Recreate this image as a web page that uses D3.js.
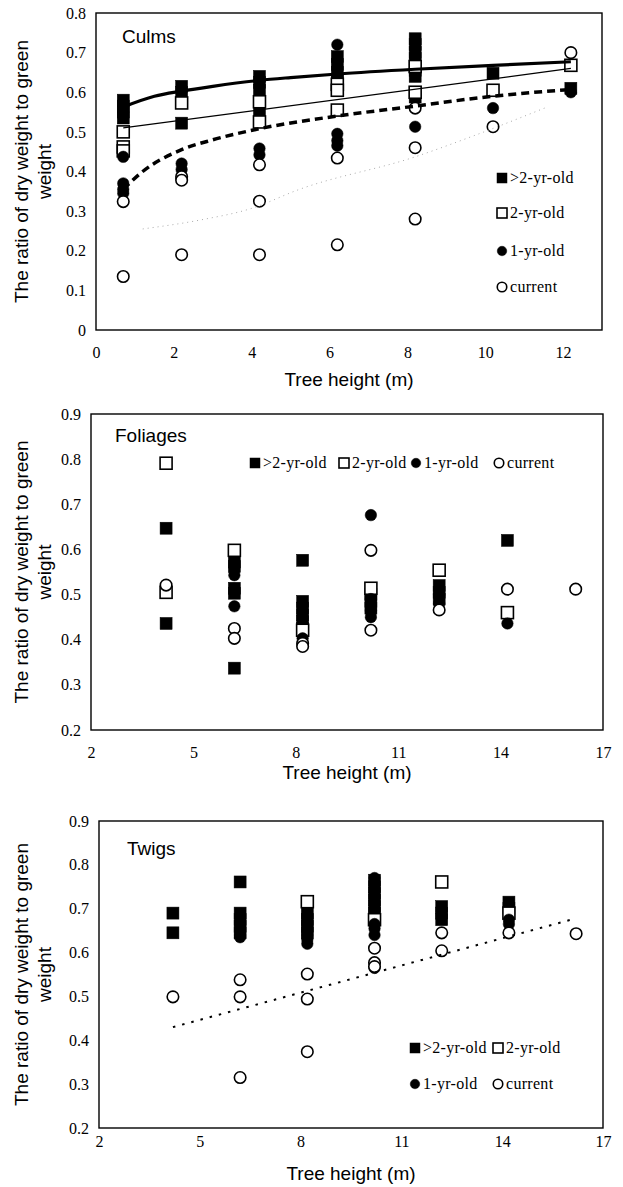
<!DOCTYPE html>
<html>
<head>
<meta charset="utf-8">
<script src="https://cdn.jsdelivr.net/npm/d3@7"></script>
<style>
  body { margin: 0; background: #fff; }
</style>
</head>
<body>
<svg id="vis" width="623" height="1187"></svg>
<script>
const svg = d3.select("#vis");

const SERIES_NAMES = [">2-yr-old", "2-yr-old", "1-yr-old", "current"];

// ---- Culms ----
const culmsXTicks = [0, 2, 4, 6, 8, 10, 12];
const culmsYTicks = [0, 0.1, 0.2, 0.3, 0.4, 0.5, 0.6, 0.7, 0.8];
const culmsOver2 = [[0.7, 0.58], [0.7, 0.565], [0.7, 0.55], [0.7, 0.535],
  [2.2, 0.615], [2.2, 0.60], [2.2, 0.522],
  [4.2, 0.64], [4.2, 0.625], [4.2, 0.605], [4.2, 0.55],
  [6.2, 0.69], [6.2, 0.67], [6.2, 0.65], [6.2, 0.63],
  [8.2, 0.735], [8.2, 0.72], [8.2, 0.70], [8.2, 0.685], [8.2, 0.655], [8.2, 0.64], [8.2, 0.588],
  [10.2, 0.648], [12.2, 0.61]];
const culms2yr = [[0.7, 0.50], [0.7, 0.462], [0.7, 0.452], [2.2, 0.573], [4.2, 0.576], [4.2, 0.525],
  [6.2, 0.62], [6.2, 0.605], [6.2, 0.555], [8.2, 0.665], [8.2, 0.60], [10.2, 0.605], [12.2, 0.668]];
const culms1yr = [[0.7, 0.437], [0.7, 0.37], [0.7, 0.355], [0.7, 0.345], [2.2, 0.42], [2.2, 0.405],
  [4.2, 0.458], [4.2, 0.442], [6.2, 0.72], [6.2, 0.495], [6.2, 0.478], [6.2, 0.465],
  [8.2, 0.513], [10.2, 0.56], [12.2, 0.60]];
const culmsCurrent = [[0.7, 0.324], [0.7, 0.135], [2.2, 0.387], [2.2, 0.378], [2.2, 0.19],
  [4.2, 0.417], [4.2, 0.325], [4.2, 0.19], [6.2, 0.434], [6.2, 0.215],
  [8.2, 0.56], [8.2, 0.46], [8.2, 0.28], [10.2, 0.513], [12.2, 0.70]];
// fitted trend lines
const culmsFitOver2 = [[0.7, 0.563], [1.5, 0.59], [2.2, 0.603], [3, 0.615], [4.2, 0.63], [5, 0.637],
  [6.2, 0.646], [8.2, 0.658], [10.2, 0.668], [12.2, 0.677]];
const culmsFit2yr = [[0.7, 0.51], [12.2, 0.66]];
const culmsFit1yr = [[0.7, 0.355], [1.2, 0.40], [2.2, 0.455], [3, 0.48], [4.2, 0.508], [6.2, 0.54],
  [8.2, 0.565], [10.2, 0.59], [12.2, 0.607]];
const culmsFitCurrent = [[1.2, 0.255], [2.7, 0.278], [4.0, 0.307], [5.2, 0.354], [8.2, 0.437],
  [9.7, 0.49], [11.6, 0.563]];

// ---- Foliages ----
const heightTicks = [2, 5, 8, 11, 14, 17];
const ratioTicks = [0.2, 0.3, 0.4, 0.5, 0.6, 0.7, 0.8, 0.9];
const foliOver2 = [[4.2, 0.647], [4.2, 0.436], [6.2, 0.572], [6.2, 0.562], [6.2, 0.514], [6.2, 0.503],
  [6.2, 0.337], [8.2, 0.576], [8.2, 0.485], [8.2, 0.47], [8.2, 0.455], [8.2, 0.44], [8.2, 0.425],
  [10.2, 0.50], [10.2, 0.485], [10.2, 0.47], [12.2, 0.52], [12.2, 0.505], [12.2, 0.49], [14.2, 0.62]];
const foli2yr = [[4.2, 0.791], [4.2, 0.505], [6.2, 0.598], [8.2, 0.421], [10.2, 0.514], [12.2, 0.554], [14.2, 0.46]];
const foli1yr = [[6.2, 0.543], [6.2, 0.474], [8.2, 0.403], [10.2, 0.676], [10.2, 0.49], [10.2, 0.465],
  [10.2, 0.45], [12.2, 0.50], [12.2, 0.48], [14.2, 0.436]];
const foliCurrent = [[4.2, 0.521], [6.2, 0.425], [6.2, 0.403], [8.2, 0.392], [8.2, 0.385], [10.2, 0.598],
  [10.2, 0.421], [12.2, 0.466], [14.2, 0.512], [16.2, 0.512]];

// ---- Twigs ----
const twigOver2 = [[4.2, 0.69], [4.2, 0.645], [6.2, 0.761], [6.2, 0.69], [6.2, 0.675], [6.2, 0.66], [6.2, 0.645],
  [8.2, 0.69], [8.2, 0.675], [8.2, 0.66], [8.2, 0.645],
  [10.2, 0.765], [10.2, 0.75], [10.2, 0.735], [10.2, 0.72], [10.2, 0.705], [10.2, 0.69],
  [12.2, 0.705], [12.2, 0.69], [12.2, 0.675], [14.2, 0.715], [14.2, 0.70]];
const twig2yr = [[8.2, 0.716], [10.2, 0.675], [12.2, 0.761], [14.2, 0.69]];
const twig1yr = [[6.2, 0.64], [6.2, 0.635], [8.2, 0.64], [8.2, 0.63], [8.2, 0.62], [10.2, 0.77], [10.2, 0.665],
  [10.2, 0.655], [10.2, 0.64], [10.2, 0.565], [14.2, 0.675], [14.2, 0.665]];
const twigCurrent = [[4.2, 0.499], [6.2, 0.538], [6.2, 0.499], [6.2, 0.315], [8.2, 0.551], [8.2, 0.494],
  [8.2, 0.374], [10.2, 0.61], [10.2, 0.577], [10.2, 0.568], [12.2, 0.645], [12.2, 0.604],
  [14.2, 0.645], [16.2, 0.643]];
const twigFitCurrent = [[4.2, 0.43], [16.2, 0.678]];

// marker look per series (same order as SERIES_NAMES)
const SHAPES = ["square", "square", "circle", "circle"];
const FILLS = ["#000", "#fff", "#000", "#fff"];
const SERIF = "'Liberation Serif', 'Times New Roman', serif";
const SANS = "'Liberation Sans', Arial, sans-serif";

const panels = [
  { title: "Culms", left: 96, top: 13, right: 602, bottom: 330, xDomain: [0, 13], yDomain: [0, 0.8],
    xTicks: culmsXTicks, yTicks: culmsYTicks, xPad: 17, titleX: 122, titleY: 43, xTitleY: 386,
    series: [culmsOver2, culms2yr, culms1yr, culmsCurrent],
    fits: [
      { pts: culmsFitOver2, width: 3.2, dash: null, color: "#000", curve: d3.curveMonotoneX },
      { pts: culmsFit2yr, width: 1.3, dash: null, color: "#000", curve: d3.curveLinear },
      { pts: culmsFit1yr, width: 3.5, dash: "8,5", color: "#000", curve: d3.curveMonotoneX },
      { pts: culmsFitCurrent, width: 1, dash: "1,4", color: "#aaa", curve: d3.curveMonotoneX }
    ],
    legend: [[502, 178], [502, 213], [502, 251], [502, 287]] },
  { title: "Foliages", left: 91, top: 414, right: 603, bottom: 730, xDomain: [2, 17], yDomain: [0.2, 0.9],
    xTicks: heightTicks, yTicks: ratioTicks, xPad: 17, titleX: 115, titleY: 442, xTitleY: 779,
    series: [foliOver2, foli2yr, foli1yr, foliCurrent],
    fits: [],
    legend: [[255, 463], [344, 463], [416, 463], [499, 463]] },
  { title: "Twigs", left: 99, top: 821, right: 603, bottom: 1128, xDomain: [2, 17], yDomain: [0.2, 0.9],
    xTicks: heightTicks, yTicks: ratioTicks, xPad: 8, titleX: 127, titleY: 855, xTitleY: 1180,
    series: [twigOver2, twig2yr, twig1yr, twigCurrent],
    fits: [
      { pts: twigFitCurrent, width: 2, dash: "2.5,7", color: "#000", curve: d3.curveLinear }
    ],
    legend: [[415, 1048], [498, 1048], [415, 1084], [498, 1084]] }
];

function drawMarker(g, shape, fill, cx, cy, size) {
  if (shape === "square") {
    g.append("rect")
      .attr("x", cx - size / 2).attr("y", cy - size / 2)
      .attr("width", size).attr("height", size)
      .attr("fill", fill).attr("stroke", "#000").attr("stroke-width", fill === "#000" ? 0.5 : 1.6);
  } else {
    g.append("circle")
      .attr("cx", cx).attr("cy", cy).attr("r", size / 2)
      .attr("fill", fill).attr("stroke", "#000").attr("stroke-width", fill === "#000" ? 0.5 : 1.6);
  }
}

function drawPanel(p) {
  const x = d3.scaleLinear().domain(p.xDomain).range([p.left, p.right]);
  const y = d3.scaleLinear().domain(p.yDomain).range([p.bottom, p.top]);
  const g = svg.append("g");

  // axes, labels only (no tick marks in the original)
  const xa = g.append("g")
    .attr("transform", `translate(0,${p.bottom})`)
    .call(d3.axisBottom(x).tickValues(p.xTicks).tickSize(0).tickPadding(p.xPad).tickFormat(d3.format("d")));
  const ya = g.append("g")
    .attr("transform", `translate(${p.left},0)`)
    .call(d3.axisLeft(y).tickValues(p.yTicks).tickSize(0).tickPadding(10)
      .tickFormat(d => d === 0 ? "0" : d3.format(".1f")(d)));
  [xa, ya].forEach(a => {
    a.select(".domain").remove();
    a.attr("font-family", null).attr("font-size", null);
    a.selectAll("text").style("font-family", SERIF).style("font-size", "16px").attr("fill", "#000");
  });

  // markers, drawn series after series so the open ones sit on top
  p.series.forEach((pts, i) => {
    const sg = g.append("g").attr("class", "series" + i);
    pts.forEach(d => drawMarker(sg, SHAPES[i], FILLS[i], x(d[0]), y(d[1]), SHAPES[i] === "square" ? 12 : 11.5));
  });

  // trend lines
  const line = d3.line().x(d => x(d[0])).y(d => y(d[1]));
  p.fits.forEach(f => {
    g.append("path")
      .attr("d", line.curve(f.curve)(f.pts))
      .attr("fill", "none")
      .attr("stroke", f.color)
      .attr("stroke-width", f.width)
      .attr("stroke-dasharray", f.dash);
  });

  // frame
  g.append("rect")
    .attr("x", p.left).attr("y", p.top)
    .attr("width", p.right - p.left).attr("height", p.bottom - p.top)
    .attr("fill", "none").attr("stroke", "#000").attr("stroke-width", 1.4);

  // panel title
  g.append("text")
    .attr("x", p.titleX).attr("y", p.titleY)
    .style("font-family", SANS).style("font-size", "19px")
    .text(p.title);

  // legend
  p.legend.forEach((pos, i) => {
    drawMarker(g, SHAPES[i], FILLS[i], pos[0], pos[1], SHAPES[i] === "square" ? 10 : 9.5);
    g.append("text")
      .attr("x", pos[0] + 8).attr("y", pos[1] + 5)
      .style("font-family", SERIF).style("font-size", "16px")
      .style("letter-spacing", "0.3px")
      .text(SERIES_NAMES[i]);
  });

  // axis titles
  g.append("text")
    .attr("x", (p.left + p.right) / 2).attr("y", p.xTitleY)
    .attr("text-anchor", "middle")
    .style("font-family", SANS).style("font-size", "19px")
    .text("Tree height (m)");

  const cy = (p.top + p.bottom) / 2;
  const yt = g.append("text")
    .attr("transform", `translate(0,${cy}) rotate(-90)`)
    .attr("text-anchor", "middle")
    .style("font-family", SANS).style("font-size", "19px");
  yt.append("tspan").attr("x", 0).attr("y", 28).text("The ratio of dry weight to green");
  yt.append("tspan").attr("x", 0).attr("y", 51).text("weight");
}

panels.forEach(drawPanel);
</script>
</body>
</html>
